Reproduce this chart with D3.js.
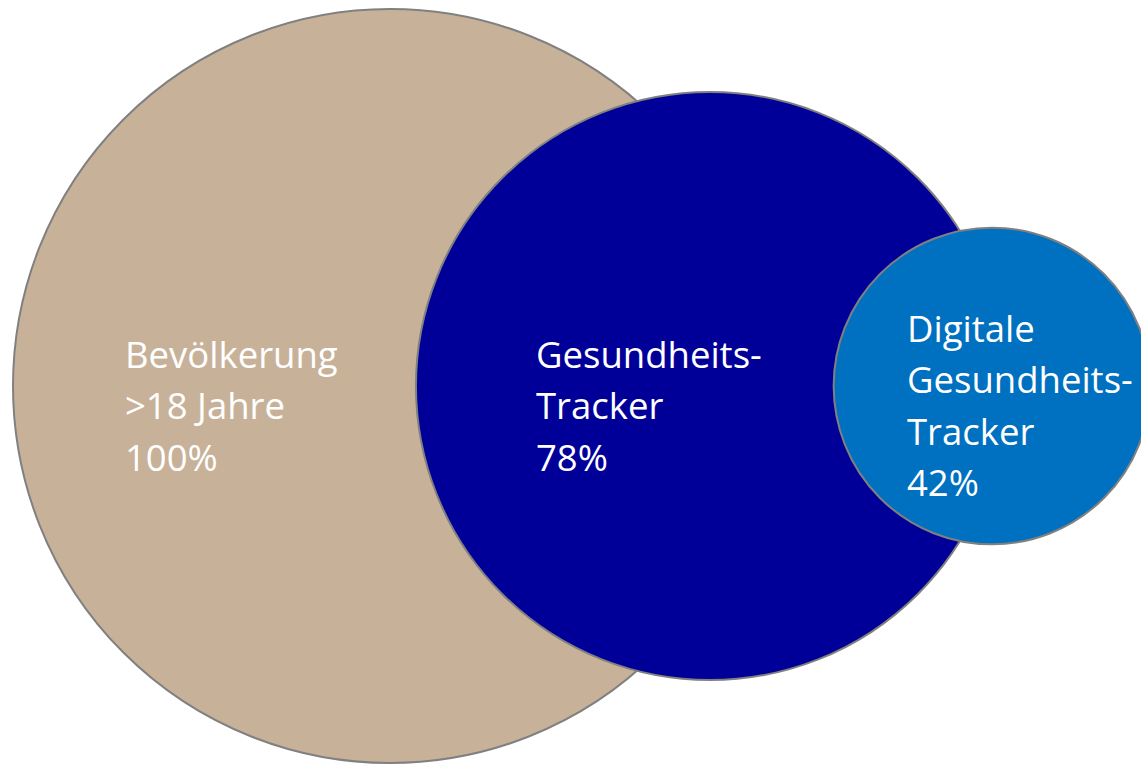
<!DOCTYPE html>
<html>
<head>
<meta charset="utf-8">
<title></title>
<script src="https://d3js.org/d3.v7.min.js"></script>
<style>
	html, body { margin: 0; padding: 0; background: #fff; overflow: hidden; }
	svg { display: block; }
</style>
</head>
<body>
<div id="chart"></div>
<script type="text/javascript">
// shares of the population (in %)
var groups = ['Bevölkerung', 'Gesundheits-Tracker', 'Digitale Gesundheits-Tracker'];
var shares = [100, 78, 42];
var labels = [
	['Bevölkerung', '>18 Jahre', '100%'],
	['Gesundheits-', 'Tracker', '78%'],
	['Digitale', 'Gesundheits-', 'Tracker', '42%']
];
var colors = ['#c7b299', '#000099', '#0070c0'];

var width = 1141,
	height = 764;

// where each circle sits and where its text starts (layout only)
var centerX = [390, 710, 992],
	centerY = 386,
	textOffset = [-265, -174, -85],
	lineHeight = 51.5;

var r = d3.scaleLinear()
	.domain([0, 100])
	.range([0, 377]);

var data = shares.map(function(v, i){
	return { name: groups[i], value: v, lines: labels[i], color: colors[i], cx: centerX[i], dx: textOffset[i] };
});

var svg = d3.select('#chart')
	.append('svg')
		.attr('width', width)
		.attr('height', height);

svg.selectAll('circle')
	.data(data)
	.enter()
	.append('circle')
		.attr('cx', function(d){ return d.cx; })
		.attr('cy', centerY)
		.attr('r', function(d){ return r(d.value); })
		.attr('fill', function(d){ return d.color; })
		.attr('stroke', '#808080')
		.attr('stroke-width', 2);

var text = svg.selectAll('text.lbl')
	.data(data)
	.enter()
	.append('text')
		.attr('class', 'lbl')
		.attr('fill', '#fff')
		.style('font-family', '"Open Sans", sans-serif')
		.style('font-size', '36.5px');

text.selectAll('tspan')
	.data(function(d){
		var first = centerY + 33 - (d.lines.length - 1) / 2 * lineHeight;
		return d.lines.map(function(t, j){ return { t: t, x: d.cx + d.dx, y: first + j * lineHeight }; });
	})
	.enter()
	.append('tspan')
		.attr('x', function(d){ return d.x; })
		.attr('y', function(d){ return d.y; })
		.text(function(d){ return d.t; });
</script>
</body>
</html>
